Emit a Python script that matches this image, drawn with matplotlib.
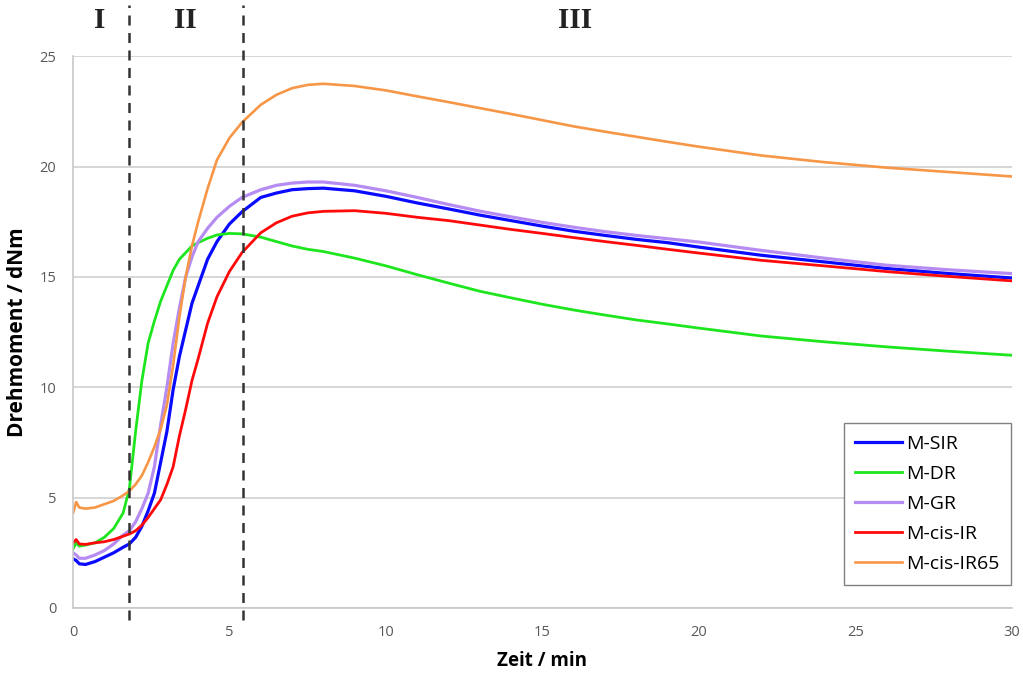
import matplotlib
matplotlib.use("Agg")
import matplotlib.pyplot as plt

t = [0, 0.1, 0.2, 0.4, 0.7, 1.0, 1.3, 1.6, 1.8, 2.0, 2.2, 2.4, 2.6, 2.8, 3.0, 3.2,
     3.4, 3.6, 3.8, 4.0, 4.3, 4.6, 5.0, 5.4, 6.0, 6.5, 7.0, 7.5, 8.0, 9.0, 10, 11,
     12, 13, 14, 15, 16, 17, 18, 19, 20, 22, 24, 26, 28, 30]

m_sir = [2.23, 2.15, 2.0, 1.97, 2.1, 2.3, 2.5, 2.75, 2.9, 3.2, 3.7, 4.4, 5.2, 6.6, 8.0, 9.9,
         11.4, 12.6, 13.8, 14.6, 15.8, 16.6, 17.4, 17.95, 18.6, 18.8, 18.95, 19.0, 19.02, 18.9, 18.65, 18.35,
         18.08, 17.8, 17.55, 17.3, 17.07, 16.88, 16.7, 16.55, 16.35, 15.98, 15.68, 15.38, 15.15, 14.95]

m_dr = [2.68, 2.95, 2.8, 2.85, 2.95, 3.2, 3.6, 4.3, 5.4, 8.0, 10.3, 12.0, 13.0, 13.9, 14.6, 15.3,
        15.8, 16.1, 16.4, 16.55, 16.75, 16.9, 16.97, 16.95, 16.8, 16.6, 16.4, 16.25, 16.15, 15.85, 15.5, 15.1,
        14.72, 14.35, 14.05, 13.76, 13.5, 13.27, 13.05, 12.87, 12.68, 12.32, 12.06, 11.83, 11.63, 11.45]

m_gr = [2.5, 2.4, 2.25, 2.25, 2.4, 2.6, 2.9, 3.3, 3.5, 3.9, 4.5, 5.2, 6.4, 8.3, 10.0, 12.0,
        13.6, 15.0, 15.9, 16.6, 17.2, 17.7, 18.2, 18.6, 18.95, 19.15, 19.25, 19.3, 19.3, 19.15, 18.9, 18.6,
        18.28, 17.98, 17.72, 17.47, 17.25, 17.05, 16.88, 16.73, 16.58, 16.2, 15.85, 15.53, 15.32, 15.15]

m_cis_ir = [2.95, 3.1, 2.9, 2.88, 2.95, 3.0, 3.1, 3.25, 3.35, 3.5, 3.75, 4.1, 4.5, 4.9, 5.6, 6.4,
            7.8, 9.0, 10.3, 11.3, 12.9, 14.1, 15.25, 16.1, 17.0, 17.45, 17.75, 17.9, 17.97, 18.0, 17.88, 17.7,
            17.55, 17.35, 17.15, 16.97, 16.78, 16.6, 16.43, 16.25, 16.08, 15.75, 15.5, 15.24, 15.02, 14.82]

m_cis_ir65 = [4.3, 4.8, 4.55, 4.5, 4.55, 4.7, 4.85, 5.1, 5.3, 5.6, 6.0, 6.6, 7.3, 8.1, 9.2, 11.0,
              13.2, 15.0, 16.4, 17.5, 19.0, 20.3, 21.3, 22.0, 22.8, 23.25, 23.55, 23.7, 23.75, 23.65, 23.45, 23.18,
              22.92, 22.65, 22.38, 22.1, 21.82, 21.58, 21.35, 21.12, 20.9, 20.5, 20.2, 19.95, 19.75, 19.55]

series_names = ["M-SIR", "M-DR", "M-GR", "M-cis-IR", "M-cis-IR65"]
series_values = [m_sir, m_dr, m_gr, m_cis_ir, m_cis_ir65]
series_colors = ["#0a0aff", "#1ee61e", "#b68cf2", "#ff0a0a", "#f79646"]
series_lw = [2.3, 2.0, 2.3, 2.0, 1.9]

phase_bounds = [1.79, 5.43]
phase_labels = ["I", "II", "III"]
phase_label_x = [0.86, 3.6, 16.05]

x_ticks = [0, 5, 10, 15, 20, 25, 30]
y_ticks = [0, 5, 10, 15, 20, 25]

fig = plt.figure(figsize=(10.23, 6.77), dpi=100)
ax = fig.add_axes([0.0714, 0.102, 0.9176, 0.815])

for name, vals, c, lw in zip(series_names, series_values, series_colors, series_lw):
    ax.plot(t, vals, color=c, lw=lw, label=name, solid_joinstyle="round")

ax.set_xlim(0, 30)
ax.set_ylim(0, 25)
ax.set_xticks(x_ticks)
ax.set_yticks(y_ticks)
ax.tick_params(axis="x", length=0, labelsize=10.5, colors="#595959", pad=12)
ax.tick_params(axis="y", length=0, labelsize=10.5, colors="#595959", pad=12)
for lab in ax.get_xticklabels() + ax.get_yticklabels():
    lab.set_family("Open Sans")
ax.yaxis.grid(True, color="#d0d0d0", lw=1.2)
ax.set_axisbelow(True)
for s in ["top", "right"]:
    ax.spines[s].set_visible(False)
for s in ["left", "bottom"]:
    ax.spines[s].set_color("#c8c8c8")
    ax.spines[s].set_linewidth(1.2)

for xb in phase_bounds:
    ax.axvline(xb, ymin=-0.022, ymax=1.092, color="#333333", lw=1.8,
               ls=(0, (4, 3)), clip_on=False, zorder=5)

for lab, xl in zip(phase_labels, phase_label_x):
    ax.text(xl, 1.064, lab, transform=ax.get_xaxis_transform(), ha="center", va="center",
            fontsize=21, fontweight="bold", family="Liberation Serif", color="#222222")

ax.set_xlabel("Zeit / min", fontsize=13.5, fontweight="bold", family="Open Sans", labelpad=8)
ax.set_ylabel("Drehmoment / dNm", fontsize=15, fontweight="bold", family="Open Sans", labelpad=8)

leg = ax.legend(loc="lower right", bbox_to_anchor=(0.999, 0.042), fancybox=False,
                edgecolor="#808080", framealpha=1, prop={"family": "Open Sans", "size": 14},
                handlelength=2.4, handletextpad=0.2, labelspacing=0.62, borderpad=0.6,
                borderaxespad=0)
leg.get_frame().set_linewidth(1.0)

fig.savefig("out.png", dpi=100)
